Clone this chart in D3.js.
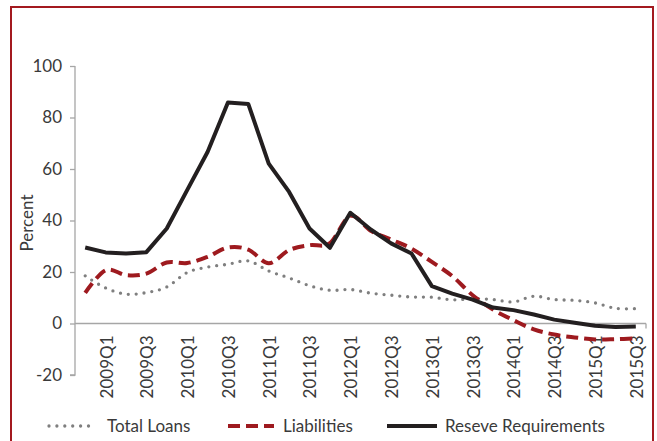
<!DOCTYPE html>
<html><head><meta charset="utf-8">
<script src="https://cdn.jsdelivr.net/npm/d3@7"></script>
<style>
html,body{margin:0;padding:0;background:#fff;}
svg{display:block;font-family:Lato,"Open Sans",sans-serif;}
</style></head>
<body><svg id="c" width="657" height="441"></svg>
<script>
const categories = ["2008Q4","2009Q1","2009Q2","2009Q3","2009Q4","2010Q1","2010Q2","2010Q3","2010Q4",
"2011Q1","2011Q2","2011Q3","2011Q4","2012Q1","2012Q2","2012Q3","2012Q4","2013Q1","2013Q2","2013Q3",
"2013Q4","2014Q1","2014Q2","2014Q3","2014Q4","2015Q1","2015Q2","2015Q3"];
const totalLoans = [18.5,13.8,11.4,12.0,14.2,19.8,21.9,23.0,24.3,20.4,17.7,14.7,12.9,13.2,11.8,11.0,10.3,10.2,9.2,9.6,9.3,8.4,10.6,9.3,9.0,8.0,5.9,5.8];
const liabilities = [11.9,20.7,18.8,19.4,23.7,23.5,25.9,29.5,28.7,23.4,28.5,30.4,31.2,41.8,36.0,32.6,29.1,23.9,18.4,11.0,5.4,1.3,-2.3,-4.3,-5.4,-6.2,-6.1,-5.8];
const reserveReq = [29.5,27.6,27.2,27.7,36.9,51.8,66.6,85.8,85.2,62.1,51.1,36.9,29.4,43.0,36.5,31.1,27.2,14.5,11.6,9.3,6.2,5.2,3.5,1.5,0.3,-0.9,-1.4,-1.2];
const yTicks = [-20,0,20,40,60,80,100];
const seriesNames = ["Total Loans","Liabilities","Reseve Requirements"];

const svg = d3.select("#c");
// frame
svg.append("path").attr("d","M11,460 V7 H653 V460").attr("fill","none")
  .attr("stroke","#a3191f").attr("stroke-width",2);

const x = d3.scaleBand().domain(categories).range([75,646]).paddingInner(0).paddingOuter(0);
const y = d3.scaleLinear().domain([-20,100]).range([375,66]);
const cx = d => x(d) + x.bandwidth()/2;
const axisCol = "#a6a6a6", textCol = "#3a3a3a", fs = 17;

// y axis
const ya = svg.append("g").attr("transform","translate(75,0)")
  .call(d3.axisLeft(y).tickValues(yTicks).tickSize(5).tickPadding(8).tickFormat(d=>String(d)));
ya.select(".domain").attr("stroke",axisCol).attr("stroke-width",1.3).attr("d","M0,66V375H-5");
ya.selectAll(".tick line").attr("stroke",axisCol).attr("stroke-width",1.3);
ya.selectAll(".tick text").attr("fill",textCol).attr("font-size",fs).attr("font-family","Lato");

// x axis at zero
const xa = svg.append("g").attr("transform",`translate(0,${y(0)})`);
xa.append("line").attr("x1",75).attr("x2",646).attr("stroke",axisCol).attr("stroke-width",1.3);
xa.append("line").attr("x1",646).attr("x2",646).attr("y1",0).attr("y2",5).attr("stroke",axisCol).attr("stroke-width",1.3);
xa.selectAll("text").data(categories.filter((d,i)=>i%2===1)).join("text")
  .attr("transform",d=>`translate(${cx(d)+1},12) rotate(-90)`)
  .attr("text-anchor","end").attr("dy","0.35em")
  .attr("fill",textCol).attr("font-size",fs).text(d=>d);

// y label
svg.append("text").attr("transform","translate(27,223) rotate(-90)")
  .attr("text-anchor","middle").attr("dy","0.35em").attr("fill",textCol).attr("font-size",fs).text("Percent");

// lines
const smooth = d3.line().x((d,i)=>cx(categories[i])).y(d=>y(d)).curve(d3.curveCatmullRom.alpha(0));
const straight = d3.line().x((d,i)=>cx(categories[i])).y(d=>y(d));
const styles = [
  {stroke:"#7f7f7f", w:3.3, dash:"0,7.9", cap:"round"},
  {stroke:"#9e1a1f", w:4, dash:"12,6", cap:"butt"},
  {stroke:"#231f20", w:4, dash:null, cap:"butt"}
];
svg.append("path").attr("d",smooth(totalLoans)).attr("fill","none").attr("stroke",styles[0].stroke)
  .attr("stroke-width",styles[0].w).attr("stroke-dasharray",styles[0].dash).attr("stroke-linecap","round");
svg.append("path").attr("d",smooth(liabilities)).attr("fill","none").attr("stroke",styles[1].stroke)
  .attr("stroke-width",styles[1].w).attr("stroke-dasharray",styles[1].dash);
svg.append("path").attr("d",straight(reserveReq)).attr("fill","none").attr("stroke",styles[2].stroke)
  .attr("stroke-width",styles[2].w).attr("stroke-linejoin","round");

// legend
const leg = [{x1:49,x2:93,tx:107},{x1:228,x2:274,tx:283},{x1:387,x2:437,tx:445}];
const ly = 426;
seriesNames.forEach((n,i)=>{
  const s = styles[i], L = leg[i];
  svg.append("line").attr("x1",L.x1).attr("x2",L.x2).attr("y1",ly).attr("y2",ly)
    .attr("stroke",s.stroke).attr("stroke-width",s.w)
    .attr("stroke-dasharray",s.dash).attr("stroke-linecap",s.cap);
  svg.append("text").attr("x",L.tx).attr("y",ly).attr("dy","0.35em").attr("fill",textCol)
    .attr("font-size",fs).text(n);
});
</script></body></html>
